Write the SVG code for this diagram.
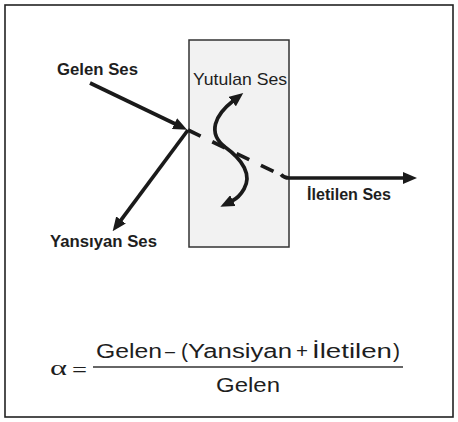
<svg xmlns="http://www.w3.org/2000/svg" width="458" height="422" viewBox="0 0 458 422">
<style>
.lbl{font-family:"Liberation Sans",Arial,sans-serif;fill:#1e1e1e}
.b{font-weight:bold}
.eq{font-family:"Liberation Sans",Arial,sans-serif;font-size:19.5px;fill:#1e1e1e}
.gr{font-family:"Liberation Serif","Times New Roman",serif;font-size:22px;fill:#1e1e1e}
.ln{fill:none;stroke:#1a1a1a;stroke-width:3.7}
</style>
<defs>
<marker id="ah" viewBox="0 0 14 12" refX="1" refY="6" markerWidth="14" markerHeight="12" markerUnits="userSpaceOnUse" orient="auto-start-reverse">
<path d="M0,0 L14,6 L0,12 Z" fill="#1a1a1a"/>
</marker>
</defs>
<rect x="5" y="5" width="448" height="412" fill="#ffffff" stroke="#222" stroke-width="1.6"/>
<g id="material">
<rect x="189" y="40" width="100" height="207" fill="#f2f2f2" stroke="#333" stroke-width="1.5"/>
</g>
<g id="connectors">
<path class="ln" d="M90,83 L175.4,124" marker-end="url(#ah)"/>
<path class="ln" d="M188,130 L120.4,220.8" marker-end="url(#ah)"/>
<path class="ln" d="M188,130 L284,176.5" stroke-dasharray="14 13"/>
<path class="ln" d="M281,174.5 Q284,178 289,178 L404,178" marker-end="url(#ah)"/>
<path class="ln" d="M233,101 C215,115 207,133 225,147 C243,160 252,175 244,189 C240,196 236,199 232,201" marker-start="url(#ah)" marker-end="url(#ah)"/>
</g>
<g id="gelen"><text class="lbl b" x="57" y="75" font-size="16.5" textLength="81" lengthAdjust="spacingAndGlyphs">Gelen Ses</text></g>
<g id="yutulan"><text class="lbl" x="193" y="85" font-size="17" textLength="94" lengthAdjust="spacingAndGlyphs">Yutulan Ses</text></g>
<g id="iletilen"><text class="lbl b" x="307" y="200" font-size="16" textLength="84" lengthAdjust="spacingAndGlyphs">İletilen Ses</text></g>
<g id="yansiyan"><text class="lbl b" x="50" y="247" font-size="16.5" textLength="107" lengthAdjust="spacingAndGlyphs">Yansıyan Ses</text></g>
<g id="formula">
<text class="gr" x="50" y="375" textLength="17" lengthAdjust="spacingAndGlyphs">α</text>
<text class="gr" x="72" y="377" textLength="15" lengthAdjust="spacingAndGlyphs">=</text>
<text class="eq" x="96" y="358" textLength="66" lengthAdjust="spacingAndGlyphs">Gelen</text>
<text class="eq" x="165" y="358" textLength="10" lengthAdjust="spacingAndGlyphs">–</text>
<text class="eq" x="181" y="358" textLength="7" lengthAdjust="spacingAndGlyphs">(</text>
<text class="eq" x="188" y="358" textLength="104" lengthAdjust="spacingAndGlyphs">Yansiyan</text>
<text class="eq" x="296" y="358" textLength="12" lengthAdjust="spacingAndGlyphs">+</text>
<text class="eq" x="312" y="358" textLength="80" lengthAdjust="spacingAndGlyphs">İletilen</text>
<text class="eq" x="393" y="358" textLength="7" lengthAdjust="spacingAndGlyphs">)</text>
<line x1="93" y1="367" x2="403" y2="367" stroke="#333" stroke-width="1.3"/>
<text class="eq" x="216" y="392" textLength="64" lengthAdjust="spacingAndGlyphs">Gelen</text>
</g>
</svg>
